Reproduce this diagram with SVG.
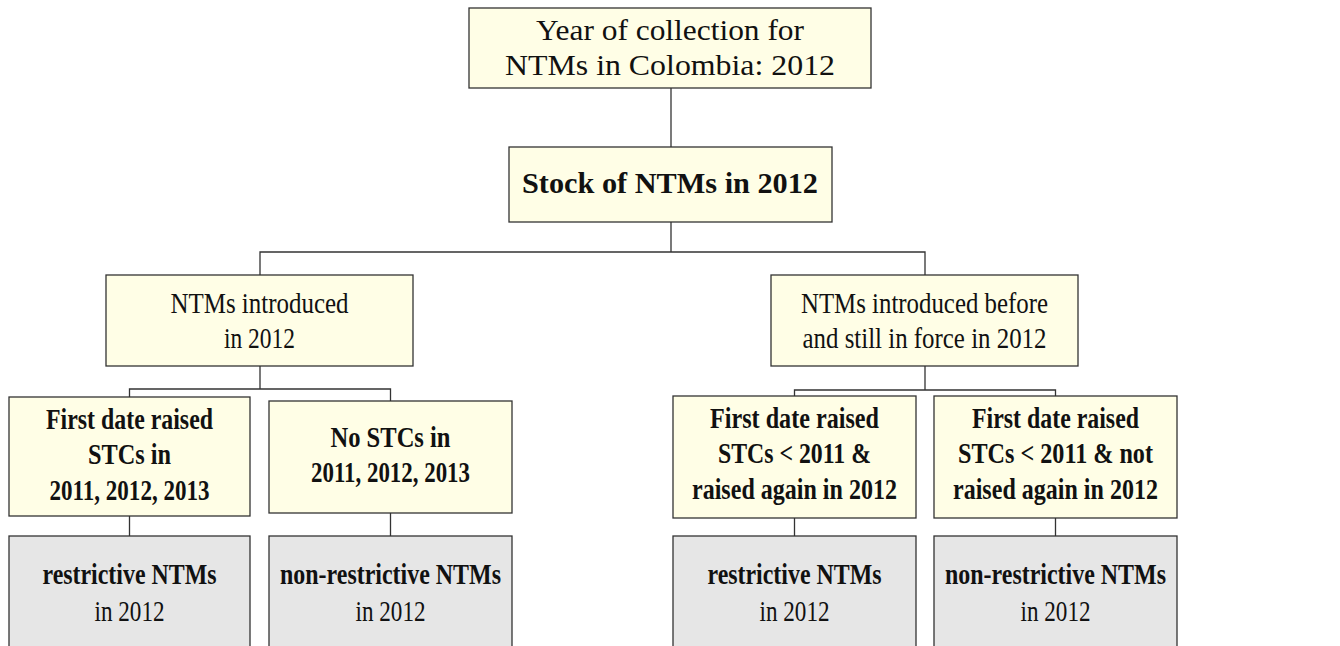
<svg xmlns="http://www.w3.org/2000/svg" width="1340" height="646" viewBox="0 0 1340 646">
<style>
  .y { fill: #fffee6; stroke: #333; stroke-width: 1.3; }
  .g { fill: #e6e6e6; stroke: #333; stroke-width: 1.3; }
  .t { font-family: "Liberation Serif", "Times New Roman", serif; font-size: 30px; fill: #111; text-anchor: middle; }
  .b { font-weight: bold; }
  .c { fill: none; stroke: #333; stroke-width: 1.3; }
</style>
<rect width="1340" height="646" fill="#ffffff"/>
<g id="connectors">
  <path class="c" d="M671,88 V147"/>
  <path class="c" d="M671,222 V252 M260,275 V252 H925 V275"/>
  <path class="c" d="M260,366 V389 M129.5,397 V389 H390.5 V401"/>
  <path class="c" d="M925,366 V390 M794.5,396 V390 H1055.5 V396"/>
  <path class="c" d="M129.5,516 V536 M390.5,513 V536 M794.5,518 V536 M1055.5,518 V536"/>
</g>
<g id="n-year">
  <rect class="y" x="469" y="8" width="402" height="80"/>
  <text class="t" x="670" y="40" textLength="268" lengthAdjust="spacingAndGlyphs">Year of collection for</text>
  <text class="t" x="670" y="75" textLength="330" lengthAdjust="spacingAndGlyphs">NTMs in Colombia: 2012</text>
</g>
<g id="n-stock">
  <rect class="y" x="509" y="147" width="323" height="75"/>
  <text class="t b" x="670" y="193" textLength="296" lengthAdjust="spacingAndGlyphs">Stock of NTMs in 2012</text>
</g>
<g id="n-intro">
  <rect class="y" x="106" y="275" width="307" height="91"/>
  <text class="t" x="259.5" y="313" textLength="178" lengthAdjust="spacingAndGlyphs">NTMs introduced</text>
  <text class="t" x="259.5" y="348" textLength="71" lengthAdjust="spacingAndGlyphs">in 2012</text>
</g>
<g id="n-before">
  <rect class="y" x="771" y="275" width="307" height="91"/>
  <text class="t" x="924.5" y="313" textLength="247" lengthAdjust="spacingAndGlyphs">NTMs introduced before</text>
  <text class="t" x="924.5" y="348" textLength="244" lengthAdjust="spacingAndGlyphs">and still in force in 2012</text>
</g>
<g id="n-first1">
  <rect class="y" x="9" y="397" width="241" height="119"/>
  <text class="t b" x="129.5" y="429" textLength="167" lengthAdjust="spacingAndGlyphs">First date raised</text>
  <text class="t b" x="129.5" y="464" textLength="83" lengthAdjust="spacingAndGlyphs">STCs in</text>
  <text class="t b" x="129.5" y="500" textLength="160" lengthAdjust="spacingAndGlyphs">2011, 2012, 2013</text>
</g>
<g id="n-nostc">
  <rect class="y" x="269" y="401" width="243" height="112"/>
  <text class="t b" x="390.5" y="447" textLength="120" lengthAdjust="spacingAndGlyphs">No STCs in</text>
  <text class="t b" x="390.5" y="482" textLength="159" lengthAdjust="spacingAndGlyphs">2011, 2012, 2013</text>
</g>
<g id="n-again">
  <rect class="y" x="673" y="396" width="243" height="122"/>
  <text class="t b" x="794.5" y="428" textLength="169" lengthAdjust="spacingAndGlyphs">First date raised</text>
  <text class="t b" x="794.5" y="463" textLength="153" lengthAdjust="spacingAndGlyphs">STCs &lt; 2011 &amp;</text>
  <text class="t b" x="794.5" y="499" textLength="205" lengthAdjust="spacingAndGlyphs">raised again in 2012</text>
</g>
<g id="n-notagain">
  <rect class="y" x="934" y="396" width="243" height="122"/>
  <text class="t b" x="1055.5" y="428" textLength="167" lengthAdjust="spacingAndGlyphs">First date raised</text>
  <text class="t b" x="1055.5" y="463" textLength="195" lengthAdjust="spacingAndGlyphs">STCs &lt; 2011 &amp; not</text>
  <text class="t b" x="1055.5" y="499" textLength="205" lengthAdjust="spacingAndGlyphs">raised again in 2012</text>
</g>
<g id="n-res1">
  <rect class="g" x="9" y="536" width="241" height="130"/>
  <text class="t b" x="129.5" y="584" textLength="174" lengthAdjust="spacingAndGlyphs">restrictive NTMs</text>
  <text class="t" x="129.5" y="621" textLength="70" lengthAdjust="spacingAndGlyphs">in 2012</text>
</g>
<g id="n-nonres1">
  <rect class="g" x="269" y="536" width="243" height="130"/>
  <text class="t b" x="390.5" y="584" textLength="221" lengthAdjust="spacingAndGlyphs">non-restrictive NTMs</text>
  <text class="t" x="390.5" y="621" textLength="70" lengthAdjust="spacingAndGlyphs">in 2012</text>
</g>
<g id="n-res2">
  <rect class="g" x="673" y="536" width="243" height="130"/>
  <text class="t b" x="794.5" y="584" textLength="174" lengthAdjust="spacingAndGlyphs">restrictive NTMs</text>
  <text class="t" x="794.5" y="621" textLength="70" lengthAdjust="spacingAndGlyphs">in 2012</text>
</g>
<g id="n-nonres2">
  <rect class="g" x="934" y="536" width="243" height="130"/>
  <text class="t b" x="1055.5" y="584" textLength="221" lengthAdjust="spacingAndGlyphs">non-restrictive NTMs</text>
  <text class="t" x="1055.5" y="621" textLength="70" lengthAdjust="spacingAndGlyphs">in 2012</text>
</g>
</svg>
